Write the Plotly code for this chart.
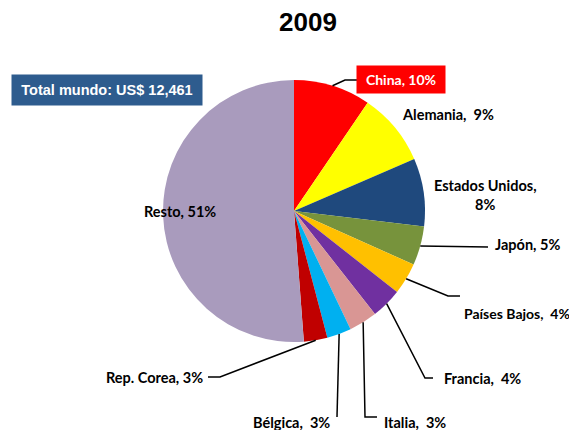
import math
import plotly.graph_objects as go

# ---- data ----
countries = ["China", "Alemania", "Estados Unidos", "Japón", "Países Bajos",
             "Francia", "Italia", "Bélgica", "Rep. Corea", "Resto"]
values = [9.5, 9.0, 8.4, 4.8, 3.9, 3.8, 3.5, 3.0, 2.9, 51.2]
pct_labels = [10, 9, 8, 5, 4, 4, 3, 3, 3, 51]
colors = ["#FF0000", "#FFFF00", "#1F497D", "#77933C", "#FFC000",
          "#7030A0", "#D99694", "#00B0F0", "#C00000", "#A99BBD"]
title_text = "2009"
total_text = "Total mundo: US$ 12,461"

W, H = 577, 430
OFF = 8  # page body margin offset
CX, CY, R = 294, 211, 131


def px(x):
    return (x - OFF) / W


def py(y):
    return 1 - (y - OFF) / H


fig = go.Figure()
fig.add_trace(go.Pie(
    labels=countries, values=values, sort=False, direction="clockwise",
    rotation=0, textinfo="none", showlegend=False,
    marker=dict(colors=colors, line=dict(width=0)),
    domain=dict(x=[px(CX - R), px(CX + R)], y=[py(CY + R), py(CY - R)]),
))

# leader line start points computed from the data (slice mid-angles)
total = sum(values)
cum = 0
starts = []
for v in values:
    mid = (cum + v / 2) / total
    cum += v
    a = 2 * math.pi * mid
    starts.append((CX + R * math.sin(a), CY - R * math.cos(a)))

gap = [" ", "\u00a0 ", " ", " ", "\u00a0 ", "\u00a0 ", "\u00a0 ", "\u00a0 ", " ", " "]
layout_info = {
    "China": (401, 80, "center", [(345, 80), (357, 80)], 14),
    "Alemania": (400, 115, "left", None, 14.5),
    "Estados Unidos": (485, 195, "center", None, 14.5),
    "Japón": (493, 244, "left", [(488, 247)], 14.5),
    "Países Bajos": (462, 313, "left", [(448, 296), (460, 296)], 14),
    "Francia": (442, 378, "left", [(425, 378), (433, 378)], 14.5),
    "Italia": (382, 422, "left", [(365, 417), (377, 417)], 14.5),
    "Bélgica": (332, 422, "right", [(337, 417)], 14.5),
    "Rep. Corea": (205, 377, "right", [(220, 377), (208, 377)], 14.5),
    "Resto": (180, 211, "center", None, 14.5),
}

FONT = "Lato"
annotations = []
shapes = []
for i, name in enumerate(countries):
    x, y, xa, path, fs = layout_info[name]
    label = f"{name},{gap[i]}{pct_labels[i]}%"
    if name == "Estados Unidos":
        label = f"{name},<br>{pct_labels[i]}%"
    if name == "China":
        annotations.append(dict(
            x=px(x), y=py(y), xref="paper", yref="paper", showarrow=False,
            text=f"<b>{label}</b>", font=dict(family=FONT, size=fs, color="white"),
            bgcolor="#FF0000", width=86, height=25, borderpad=1,
            xanchor="center", yanchor="middle"))
    else:
        annotations.append(dict(
            x=px(x), y=py(y), xref="paper", yref="paper", showarrow=False,
            text=f"<b>{label}</b>", font=dict(family=FONT, size=fs, color="black"),
            xanchor=xa, yanchor="middle", align="center"))
    if path:
        pts = [starts[i]] + path
        d = "M " + " L ".join(f"{px(a):.5f},{py(b):.5f}" for a, b in pts)
        shapes.append(dict(type="path", path=d, xref="paper", yref="paper",
                           line=dict(color="black", width=1.5), layer="above"))

annotations.append(dict(
    x=px(308), y=py(22), xref="paper", yref="paper", showarrow=False,
    text=f"<b>{title_text}</b>", font=dict(family="Liberation Sans", size=26, color="black"),
    xanchor="center", yanchor="middle"))
annotations.append(dict(
    x=px(107), y=py(90), xref="paper", yref="paper", showarrow=False,
    text=f"<b>{total_text}</b>", font=dict(family="Liberation Sans", size=14.5, color="white"),
    bgcolor="#2E5C8E", width=186, height=26, borderpad=2,
    xanchor="center", yanchor="middle"))

fig.update_layout(
    width=W, height=H, margin=dict(l=0, r=0, t=0, b=0),
    paper_bgcolor="white", plot_bgcolor="white",
    annotations=annotations, shapes=shapes,
)
fig.write_html("out.html")
